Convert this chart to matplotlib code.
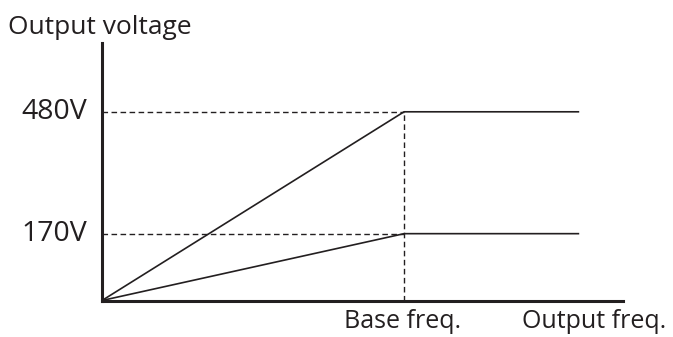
import matplotlib
matplotlib.use("Agg")
import matplotlib.pyplot as plt

# values of the V/f diagram (freq normalised to base freq = 1)
base_freq = 1.0
max_freq = 1.58
voltages = [480, 170]
volt_labels = ["480V", "170V"]
x_labels = ["Base freq.", "Output freq."]

plt.rcParams['font.family'] = ['Open Sans', 'DejaVu Sans']
ink = '#231f20'

fig = plt.figure(figsize=(6.73, 3.37), dpi=100)
ax = fig.add_axes([102/673, 36.5/337, 521/673, 257.5/337])
ax.set_xlim(0, 1.725)
ax.set_ylim(0, 655)

for s in ['top', 'right']:
    ax.spines[s].set_visible(False)
for s in ['left', 'bottom']:
    ax.spines[s].set_linewidth(2.2)
    ax.spines[s].set_color(ink)
ax.set_xticks([])
ax.set_yticks([])

for v, lab in zip(voltages, volt_labels):
    # ramp then flat
    ax.plot([0, base_freq, max_freq], [0, v, v], color=ink, lw=1.2,
            solid_capstyle='butt', clip_on=False)
    # dashed guide to y axis
    ax.plot([0, base_freq], [v, v], color=ink, lw=1.0,
            linestyle=(0, (4, 2.5)), clip_on=False)
    ax.text(-0.05, v, lab, ha='right', va='center', fontsize=20.5, color=ink)

ax.plot([base_freq, base_freq], [0, voltages[0]], color=ink, lw=1.0,
        linestyle=(0, (4, 2.5)))

ax.text(base_freq - 0.005, -22, x_labels[0], ha='center', va='top', fontsize=18, color=ink)
ax.text(1.39, -22, x_labels[1], ha='left', va='top', fontsize=18, color=ink)
fig.text(8/673, 1 - 28/337, "Output voltage", ha='left', va='center', fontsize=19,
         color=ink)

fig.savefig("out.png", dpi=100)
